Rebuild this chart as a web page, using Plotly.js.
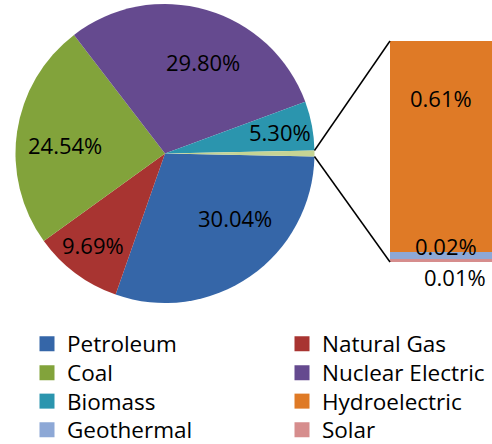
<!DOCTYPE html>
<html>
<head>
<meta charset="utf-8">
<script src="https://cdn.plot.ly/plotly-3.0.1.min.js"></script>
<style>html,body{margin:0;padding:0;background:#fff;}#chart{width:492px;height:444px;}</style>
</head>
<body>
<div id="chart"></div>
<script>
// ---- data ----
const mainLabels = ['Petroleum', 'Natural Gas', 'Coal', 'Nuclear Electric', 'Biomass'];
const mainValues = [30.04, 9.69, 24.54, 29.80, 5.30];
const otherLabels = ['Hydroelectric', 'Geothermal', 'Solar'];
const otherValues = [0.61, 0.02, 0.01];
const otherName = 'Other';
const legendOrder = ['Petroleum', 'Natural Gas', 'Coal', 'Nuclear Electric', 'Biomass', 'Hydroelectric', 'Geothermal', 'Solar'];

// ---- styles ----
const mainColors = ['#3566a8', '#a83431', '#82a33b', '#654a8f', '#2b95ae'];
const otherSliceColor = '#c5d494';
const otherColors = ['#df7a26', '#8da8d6', '#d68d8d'];
// label placement per main slice: [angle offset from mid-angle (deg), radius fraction]
const labelPlace = [[-12.5, 0.633], [1.5, 0.776], [-3.5, 0.669], [6.5, 0.66], [0, 0.78]];
const FONT = '"Open Sans", sans-serif';
const W = 492, H = 444;
const legendColX = [27, 282];          // px, left edge of each legend column
const legendRowY = [344, 373, 401.5, 430]; // px, centre of each legend row

const otherTotal = otherValues.reduce((a, b) => a + b, 0);
const pieValues = mainValues.concat([otherTotal]);
const pieLabels = mainLabels.concat([otherName]);
const pieTotal = pieValues.reduce((a, b) => a + b, 0);
const rotation = 90 + (otherTotal / pieTotal) * 360 / 2;

const pieDomX = [15 / W, 315 / W];
const pieDomY = [1 - 303 / H, 1 - 4 / H];
const barDomX = [390 / W, 1];
const barDomY = [1 - 262 / H, 1 - 41 / H];

const traces = [];
traces.push({
  type: 'pie',
  labels: pieLabels,
  values: pieValues,
  sort: false,
  direction: 'clockwise',
  rotation: rotation,
  domain: {x: pieDomX, y: pieDomY},
  marker: {colors: mainColors.concat([otherSliceColor]), line: {width: 0}},
  textinfo: 'none',
  hoverinfo: 'label+value',
  showlegend: false
});

// stacked bar of the "Other" slice (bottom first)
for (let i = otherLabels.length - 1; i >= 0; i--) {
  traces.push({
    type: 'bar', name: otherLabels[i], x: [0], y: [otherValues[i]],
    xaxis: 'x', yaxis: 'y', width: 1,
    marker: {color: otherColors[i], line: {width: 0}},
    showlegend: false,
    hovertemplate: otherLabels[i] + ': %{y:.2f}%<extra></extra>'
  });
}

// legend entries: one small legend per entry, laid out in 2 columns x 4 rows
const allColors = {};
mainLabels.forEach((l, i) => allColors[l] = mainColors[i]);
otherLabels.forEach((l, i) => allColors[l] = otherColors[i]);
const layoutLegends = {};
legendOrder.forEach((lab, i) => {
  const id = i === 0 ? 'legend' : 'legend' + (i + 1);
  traces.push({
    type: 'scatter', mode: 'markers', name: lab, x: [null], y: [null],
    xaxis: 'x', yaxis: 'y',
    marker: {symbol: 'square', size: 15, color: allColors[lab]},
    legend: id, showlegend: true, hoverinfo: 'skip'
  });
  layoutLegends[id] = {
    orientation: 'v', xanchor: 'left', yanchor: 'middle',
    x: legendColX[i % 2] / W, y: 1 - legendRowY[Math.floor(i / 2)] / H,
    font: {family: FONT, size: 22.5, color: '#000'},
    bgcolor: 'rgba(0,0,0,0)', borderwidth: 0, itemclick: false, itemsizing: 'trace'
  };
});

// pie geometry (px)
const cx = (pieDomX[0] + pieDomX[1]) / 2 * W;
const cy = (1 - (pieDomY[0] + pieDomY[1]) / 2) * H;
const r = Math.min((pieDomX[1] - pieDomX[0]) * W, (pieDomY[1] - pieDomY[0]) * H) / 2;
function pt(angDeg, frac) {
  const a = angDeg * Math.PI / 180;
  return [(cx + frac * r * Math.sin(a)) / W, 1 - (cy - frac * r * Math.cos(a)) / H];
}

// connector lines
const aStart = rotation - (otherTotal / pieTotal) * 360;
const pTop = pt(aStart, 1), pBot = pt(rotation, 1);
const shapes = [
  {type: 'line', xref: 'paper', yref: 'paper', x0: pTop[0], y0: pTop[1], x1: barDomX[0], y1: barDomY[1], line: {color: '#000', width: 1.5}},
  {type: 'line', xref: 'paper', yref: 'paper', x0: pBot[0], y0: pBot[1], x1: barDomX[0], y1: barDomY[0], line: {color: '#000', width: 1.5}}
];

const annFont = {family: FONT, size: 22, color: '#000'};
const annotations = [];
// pie labels at slice mid-angles
let angAcc = rotation;
mainValues.forEach((v, i) => {
  const span = v / pieTotal * 360;
  const mid = angAcc + span / 2 + labelPlace[i][0];
  const p = pt(mid, labelPlace[i][1]);
  annotations.push({xref: 'paper', yref: 'paper', x: p[0], y: p[1], xanchor: 'center', yanchor: 'middle',
    text: v.toFixed(2) + '%', showarrow: false, font: annFont});
  angAcc += span;
});

// bar value labels
const cum = [];
let acc = 0;
for (let i = otherLabels.length - 1; i >= 0; i--) { acc += otherValues[i]; cum[i] = acc; }
annotations.push(
  {xref: 'x', yref: 'y', x: 0, y: cum[0], text: otherValues[0].toFixed(2) + '%', showarrow: false, yanchor: 'middle', yshift: -57, font: annFont},
  {xref: 'x', yref: 'y', x: 0, y: cum[1], text: otherValues[1].toFixed(2) + '%', showarrow: false, yanchor: 'middle', yshift: 6, xshift: 5, font: annFont},
  {xref: 'x', yref: 'y', x: 0, y: 0, text: otherValues[2].toFixed(2) + '%', showarrow: false, yanchor: 'top', yshift: 2, xshift: 14, font: annFont}
);

const layout = Object.assign({
  width: W, height: H,
  margin: {l: 0, r: 0, t: 0, b: 0, autoexpand: false},
  paper_bgcolor: '#fff', plot_bgcolor: 'rgba(0,0,0,0)',
  barmode: 'stack',
  xaxis: {domain: barDomX, range: [-0.5, 0.5], visible: false, fixedrange: true},
  yaxis: {domain: barDomY, range: [0, otherTotal], visible: false, fixedrange: true},
  showlegend: true,
  shapes: shapes,
  annotations: annotations
}, layoutLegends);

Plotly.newPlot('chart', traces, layout, {displayModeBar: false, staticPlot: true});
</script>
</body>
</html>
